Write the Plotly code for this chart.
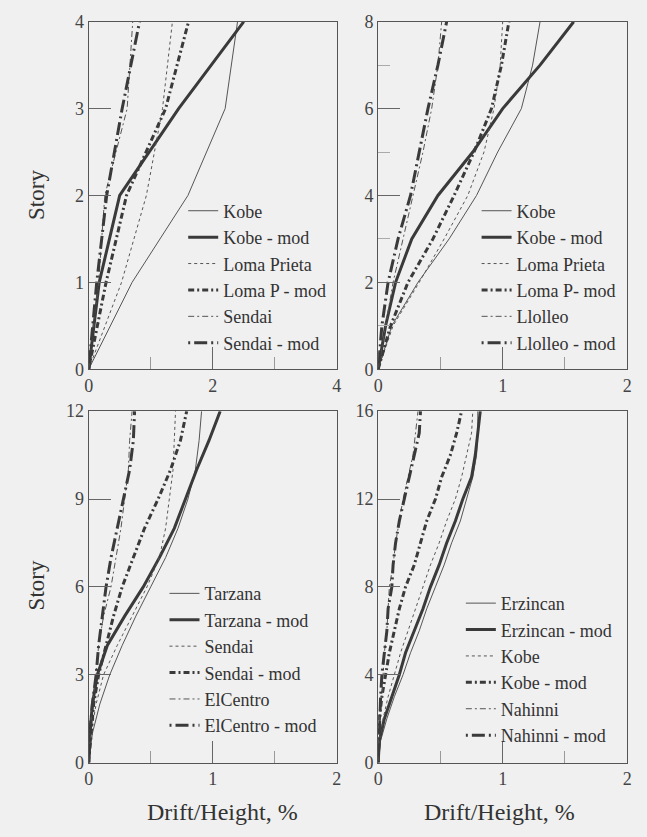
import plotly.graph_objects as go

# ---------------- data ----------------
stories4 = [0, 1, 2, 3, 4]
kobe4 = [0, 0.70, 1.60, 2.20, 2.40]
kobe4_mod = [0, 0.17, 0.50, 1.45, 2.50]
loma4 = [0, 0.53, 0.93, 1.19, 1.35]
loma4_mod = [0, 0.28, 0.61, 1.24, 1.61]
sendai4 = [0, 0.16, 0.26, 0.62, 0.71]
sendai4_mod = [0, 0.13, 0.29, 0.54, 0.82]

stories8 = [0, 1, 2, 3, 4, 5, 6, 7, 8]
kobe8 = [0, 0.11, 0.32, 0.57, 0.79, 0.96, 1.15, 1.24, 1.30]
kobe8_mod = [0, 0.06, 0.14, 0.27, 0.48, 0.76, 1.00, 1.30, 1.57]
loma8 = [0, 0.12, 0.33, 0.53, 0.72, 0.85, 0.93, 0.98, 1.00]
loma8_mod = [0, 0.10, 0.24, 0.44, 0.61, 0.77, 0.91, 0.99, 1.05]
llolleo8 = [0, 0.06, 0.12, 0.20, 0.28, 0.36, 0.43, 0.48, 0.51]
llolleo8_mod = [0, 0.03, 0.08, 0.16, 0.26, 0.33, 0.40, 0.48, 0.55]

stories12 = [0, 1, 2, 3, 4, 5, 6, 7, 8, 9, 10, 11, 12]
tarzana12 = [0, 0.03, 0.09, 0.17, 0.27, 0.38, 0.50, 0.62, 0.72, 0.80, 0.86, 0.89, 0.91]
tarzana12_mod = [0, 0.01, 0.03, 0.07, 0.15, 0.29, 0.44, 0.57, 0.69, 0.78, 0.87, 0.97, 1.06]
sendai12 = [0, 0.02, 0.06, 0.12, 0.23, 0.35, 0.47, 0.57, 0.62, 0.65, 0.68, 0.69, 0.70]
sendai12_mod = [0, 0.02, 0.04, 0.08, 0.14, 0.20, 0.27, 0.36, 0.45, 0.56, 0.66, 0.74, 0.79]
elcentro12 = [0, 0.01, 0.03, 0.06, 0.08, 0.12, 0.18, 0.22, 0.26, 0.29, 0.32, 0.33, 0.35]
elcentro12_mod = [0, 0.01, 0.03, 0.06, 0.08, 0.11, 0.14, 0.18, 0.23, 0.28, 0.33, 0.36, 0.37]

stories16 = list(range(17))
erzincan16 = [0, 0.02, 0.07, 0.13, 0.20, 0.26, 0.33, 0.39, 0.46, 0.53, 0.59, 0.66, 0.71, 0.76, 0.79, 0.80, 0.80]
erzincan16_mod = [0, 0.01, 0.05, 0.11, 0.17, 0.22, 0.29, 0.36, 0.42, 0.49, 0.55, 0.62, 0.68, 0.75, 0.78, 0.80, 0.82]
kobe16 = [0, 0.01, 0.04, 0.08, 0.13, 0.18, 0.24, 0.30, 0.36, 0.42, 0.49, 0.55, 0.62, 0.67, 0.71, 0.75, 0.76]
kobe16_mod = [0, 0.005, 0.01, 0.03, 0.06, 0.09, 0.13, 0.17, 0.22, 0.29, 0.34, 0.39, 0.46, 0.51, 0.58, 0.63, 0.67]
nahinni16 = [0, 0.005, 0.01, 0.03, 0.04, 0.05, 0.07, 0.08, 0.09, 0.12, 0.14, 0.17, 0.20, 0.24, 0.28, 0.30, 0.32]
nahinni16_mod = [0, 0.005, 0.01, 0.02, 0.03, 0.05, 0.07, 0.08, 0.11, 0.12, 0.14, 0.17, 0.21, 0.25, 0.29, 0.33, 0.34]

panels = [
    dict(stories=stories4, series=[("Kobe", kobe4), ("Kobe - mod", kobe4_mod),
                                   ("Loma Prieta", loma4), ("Loma P - mod", loma4_mod),
                                   ("Sendai", sendai4), ("Sendai - mod", sendai4_mod)],
         xmax=4, xdt=2, ymax=4, ydt=1, yminor=False),
    dict(stories=stories8, series=[("Kobe", kobe8), ("Kobe - mod", kobe8_mod),
                                   ("Loma Prieta", loma8), ("Loma P- mod", loma8_mod),
                                   ("Llolleo", llolleo8), ("Llolleo - mod", llolleo8_mod)],
         xmax=2, xdt=1, ymax=8, ydt=2, yminor=True),
    dict(stories=stories12, series=[("Tarzana", tarzana12), ("Tarzana - mod", tarzana12_mod),
                                    ("Sendai", sendai12), ("Sendai - mod", sendai12_mod),
                                    ("ElCentro", elcentro12), ("ElCentro - mod", elcentro12_mod)],
         xmax=2, xdt=1, ymax=12, ydt=3, yminor=False),
    dict(stories=stories16, series=[("Erzincan", erzincan16), ("Erzincan - mod", erzincan16_mod),
                                    ("Kobe", kobe16), ("Kobe - mod", kobe16_mod),
                                    ("Nahinni", nahinni16), ("Nahinni - mod", nahinni16_mod)],
         xmax=2, xdt=1, ymax=16, ydt=4, yminor=False),
]

# ---------------- styles ----------------
W, H = 647, 837
BG = "#f0f0f0"
FONT = "Liberation Serif"
line_styles = [
    dict(width=1.0, dash="solid", color="#555555"),
    dict(width=3.0, dash="solid", color="#3a3a3a"),
    dict(width=1.0, dash="3px,3px", color="#555555"),
    dict(width=3.0, dash="6px,3px,2px,3px", color="#3a3a3a"),
    dict(width=1.0, dash="6px,3px,2px,3px", color="#555555"),
    dict(width=3.0, dash="2px,4px,13px,4px", color="#3a3a3a"),
]

# pixel boxes: (left, right, top, bottom)
boxes = [(85, 337, 12, 368), (379, 632, 12, 368), (85, 337, 411, 771), (379, 632, 411, 771)]
legend_pos = [(181, 187), (479, 187), (162, 579), (463, 589)]

fig = go.Figure()
layout = dict(width=W, height=H, paper_bgcolor=BG, plot_bgcolor=BG,
              margin=dict(l=0, r=0, t=0, b=0), font=dict(family=FONT, color="#333333"))

for i, (p, box) in enumerate(zip(panels, boxes)):
    n = i + 1
    xa = "x" if n == 1 else f"x{n}"
    ya = "y" if n == 1 else f"y{n}"
    lg = "legend" if n == 1 else f"legend{n}"
    for (name, vals), st in zip(p["series"], line_styles):
        fig.add_trace(go.Scatter(x=vals, y=p["stories"], mode="lines", name=name,
                                 line=st, xaxis=xa, yaxis=ya, legend=lg))
    l, r, t, b = box
    axcommon = dict(showgrid=False, zeroline=False, showline=True, mirror=True,
                    linecolor="#555555", linewidth=1, ticks="inside", tickcolor="#666666",
                    tickfont=dict(family=FONT, size=18, color="#444444"))
    layout["xaxis" if n == 1 else f"xaxis{n}"] = dict(
        axcommon, domain=[l / W, r / W], range=[0, p["xmax"]], tick0=0, dtick=p["xdt"],
        ticklen=22, anchor=ya,
        minor=dict(ticks="inside", dtick=p["xdt"] / 2, ticklen=12, tickcolor="#999999"))
    yax = dict(axcommon, domain=[1 - b / H, 1 - t / H], range=[0, p["ymax"]], tick0=0,
               dtick=p["ydt"], ticklen=22, anchor=xa)
    if p["yminor"]:
        yax["minor"] = dict(ticks="inside", dtick=p["ydt"] / 2, ticklen=12, tickcolor="#aaaaaa")
    layout["yaxis" if n == 1 else f"yaxis{n}"] = yax
    lx, ly = legend_pos[i]
    layout[lg] = dict(x=lx / W, y=1 - ly / H, xanchor="left", yanchor="top",
                      bgcolor="rgba(0,0,0,0)", tracegroupgap=0,
                      font=dict(family=FONT, size=18, color="#333333"))

annotations = []
for yc in (190, 590):
    annotations.append(dict(text="Story", x=32 / W, y=1 - yc / H, xref="paper", yref="paper",
                            xanchor="center", yanchor="middle",
                            showarrow=False, textangle=-90,
                            font=dict(family=FONT, size=23, color="#333333")))
for xc in (221, 502):
    annotations.append(dict(text="Drift/Height, %", x=xc / W, y=1 - 822 / H, xref="paper",
                            yref="paper", xanchor="center", yanchor="middle", showarrow=False,
                            font=dict(family=FONT, size=24, color="#333333")))
layout["annotations"] = annotations
fig.update_layout(**layout)
fig.write_html("out.html", config={"displayModeBar": False},
               post_script="document.body.style.margin='0';document.body.style.overflow='hidden';")
